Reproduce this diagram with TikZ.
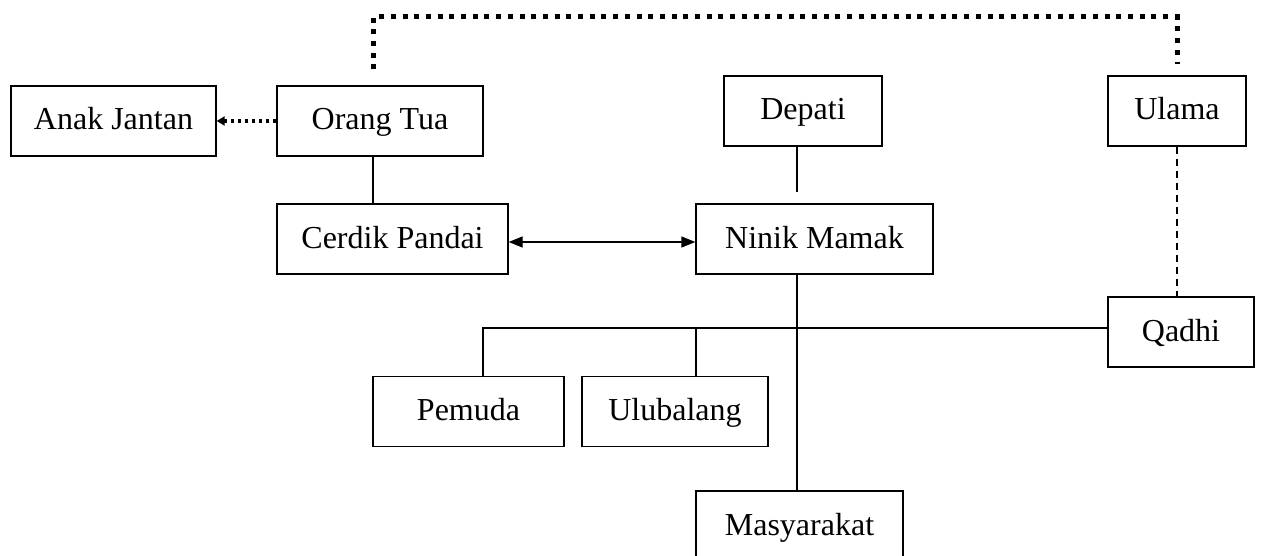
\documentclass[tikz,border=0pt]{standalone}
\usepackage{fontspec}
\setmainfont{Liberation Serif}
\usetikzlibrary{positioning, calc, arrows.meta}

\begin{document}
\begin{tikzpicture}[x=1pt, y=-1pt,
    box/.style={draw, line width=1.3pt, minimum height=70pt, inner sep=0pt,
        text height=24pt, text depth=6pt, font=\fontsize{32}{38}\selectfont},
    link/.style={line width=1.3pt},
    bigdots/.style={line width=5pt, dash pattern=on 5pt off 6.7pt},
    smalldots/.style={line width=3.5pt, dash pattern=on 3.5pt off 3.5pt},
    thindash/.style={line width=1.3pt, dash pattern=on 7pt off 5pt}]

    \useasboundingbox (0,0) rectangle (1261,556);

    % Top row
    \node[box, minimum width=205pt] (anak) at (113.5,121) {Anak Jantan};
    \node[box, minimum width=206pt] (orang) at (380,121) {Orang Tua};
    \node[box, minimum width=158pt] (depati) at (803,111) {Depati};
    \node[box, minimum width=138pt] (ulama) at (1177,111) {Ulama};

    % Middle row
    \node[box, minimum width=231pt] (cerdik) at (392.5,239) {Cerdik Pandai};
    \node[box, minimum width=237pt] (ninik) at (814.5,239) {Ninik Mamak};
    \node[box, minimum width=146pt] (qadhi) at (1181,332) {Qadhi};

    % Lower row
    \node[box, minimum width=191pt] (pemuda) at (468.5,411.5) {Pemuda};
    \node[box, minimum width=186pt] (ulubalang) at (675,411.5) {Ulubalang};
    \node[box, minimum width=207pt] (masy) at (799.5,526) {Masyarakat};

    % Branch points
    \coordinate (hub) at (797,328);
    \coordinate (left) at (483,328);
    \coordinate (drop) at (696,328);
    \coordinate (roof) at (0,17);

    % Orang Tua -- Ulama
    \draw[bigdots] ([xshift=-7pt, yshift=16pt]orang.north)
        |- ([xshift=-7pt]orang.north |- roof) -| ([yshift=11pt]ulama.north);

    % Orang Tua to Anak Jantan
    \draw[smalldots, -{Triangle[length=8pt, width=9pt]}] (orang.west) -- (anak.east);

    % Orang Tua -- Cerdik Pandai
    \draw[link] ([xshift=-7pt]orang.south) -- ([xshift=-7pt]orang.south |- cerdik.north);

    % Cerdik Pandai <-> Ninik Mamak
    \draw[link, {Triangle[length=14pt, width=11pt]}-{Triangle[length=14pt, width=11pt]}]
        ([yshift=-3pt]cerdik.east) -- ([yshift=-3pt]cerdik.east -| ninik.west);

    % Depati
    \draw[link] (depati.south -| hub) -- ([yshift=11pt]ninik.north -| hub);

    % Ulama -- Qadhi
    \draw[thindash] (ulama.south) -- (ulama.south |- qadhi.north);

    % Ninik Mamak down to Masyarakat
    \draw[link] (ninik.south -| hub) -- (masy.north -| hub);

    % Branch line
    \draw[link] (pemuda.north -| left) -- (left) -- (hub -| qadhi.west);
    \draw[link] (drop) -- (ulubalang.north -| drop);

\end{tikzpicture}
\end{document}
